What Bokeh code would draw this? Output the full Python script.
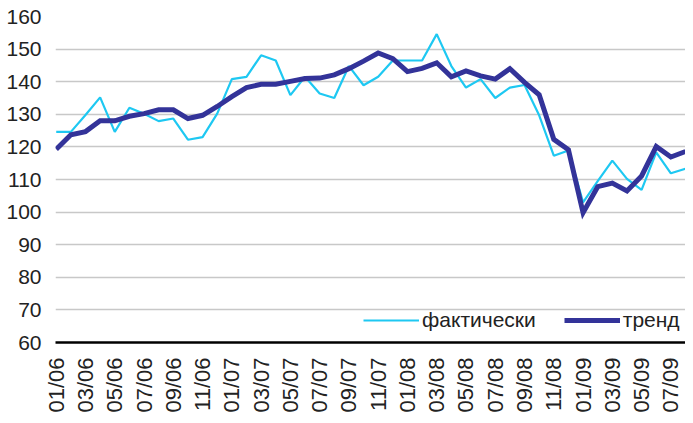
from bokeh.plotting import figure
from bokeh.models import Range1d, FixedTicker, Legend, LegendItem
from bokeh.embed import file_html
from bokeh.resources import INLINE
import math

months = ["01/06", "02/06", "03/06", "04/06", "05/06", "06/06", "07/06", "08/06", "09/06", "10/06", "11/06", "12/06",
          "01/07", "02/07", "03/07", "04/07", "05/07", "06/07", "07/07", "08/07", "09/07", "10/07", "11/07", "12/07",
          "01/08", "02/08", "03/08", "04/08", "05/08", "06/08", "07/08", "08/08", "09/08", "10/08", "11/08", "12/08",
          "01/09", "02/09", "03/09", "04/09", "05/09", "06/09", "07/09", "08/09"]

actual = [124.6, 124.6, 129.8, 135.2, 124.6, 132.0, 130.2, 127.9, 128.7, 122.2, 123.0, 130.2,
          140.8, 141.5, 148.1, 146.5, 135.9, 141.5, 136.4, 135.0, 144.8, 138.9, 141.5, 146.5,
          146.5, 146.5, 154.6, 144.8, 138.2, 140.8, 135.0, 138.2, 139.0, 129.7, 117.3, 118.9,
          103.0, 109.5, 115.8, 110.2, 106.8, 118.3, 111.9, 113.3]

trend = [119.3, 123.7, 124.7, 128.0, 128.0, 129.4, 130.2, 131.4, 131.4, 128.7, 129.7, 132.4,
         135.4, 138.2, 139.2, 139.2, 140.1, 141.0, 141.1, 142.1, 144.0, 146.3, 148.8, 147.1,
         143.1, 144.1, 145.8, 141.5, 143.3, 141.8, 140.8, 144.0, 139.8, 136.0, 122.3, 119.1,
         99.8, 107.8, 108.9, 106.5, 111.1, 120.1, 116.9, 118.6]

y_ticks = [60, 70, 80, 90, 100, 110, 120, 130, 140, 150, 160]
label_every = 2

series_names = ["фактически", "тренд"]
colors = ["#1EC8F2", "#333399"]

FONT = "Liberation Sans"
xs = list(range(len(months)))

p = figure(width=685, height=415, output_backend="svg", toolbar_location=None,
           x_range=Range1d(-0.05, len(months) - 1), y_range=Range1d(y_ticks[0], y_ticks[-1]),
           min_border_left=55, min_border_right=0, min_border_top=16, min_border_bottom=68)
p.outline_line_color = None
p.background_fill_color = "white"

r1 = p.line(xs, actual, line_color=colors[0], line_width=2.2)
r2 = p.line(xs, trend, line_color=colors[1], line_width=5, line_join="miter")

# axes
p.yaxis.ticker = FixedTicker(ticks=y_ticks)
p.yaxis.axis_line_color = None
p.yaxis.major_tick_line_color = None
p.yaxis.minor_tick_line_color = None
p.yaxis.major_label_text_font = FONT
p.yaxis.major_label_text_font_size = "21px"
p.yaxis.major_label_text_color = "#222222"
p.yaxis.major_label_standoff = 8

tick_idx = xs[::label_every]
p.xaxis.ticker = FixedTicker(ticks=tick_idx)
p.xaxis.major_label_overrides = {i: months[i] for i in tick_idx}
p.xaxis.major_label_orientation = math.pi / 2
p.xaxis.axis_line_color = "black"
p.xaxis.axis_line_width = 2.5
p.xaxis.major_tick_line_color = None
p.xaxis.minor_tick_line_color = None
p.xaxis.major_label_text_font = FONT
p.xaxis.major_label_text_font_size = "22px"
p.xaxis.major_label_text_color = "#222222"
p.xaxis.major_label_standoff = 9

p.xgrid.grid_line_color = None
p.ygrid.ticker = FixedTicker(ticks=y_ticks)
p.ygrid.grid_line_color = "#C8C8C8"
p.ygrid.grid_line_width = 1.5

legend = Legend(items=[LegendItem(label=series_names[0], renderers=[r1]),
                       LegendItem(label=series_names[1], renderers=[r2])],
                location=(308, 10), orientation="horizontal",
                label_text_font=FONT, label_text_font_size="21px", label_text_color="#222222",
                glyph_width=56, glyph_height=20, label_standoff=3, spacing=28,
                padding=0, margin=0, border_line_color=None, background_fill_alpha=0)
p.add_layout(legend)

open("out.html", "w").write(file_html(p, INLINE))
